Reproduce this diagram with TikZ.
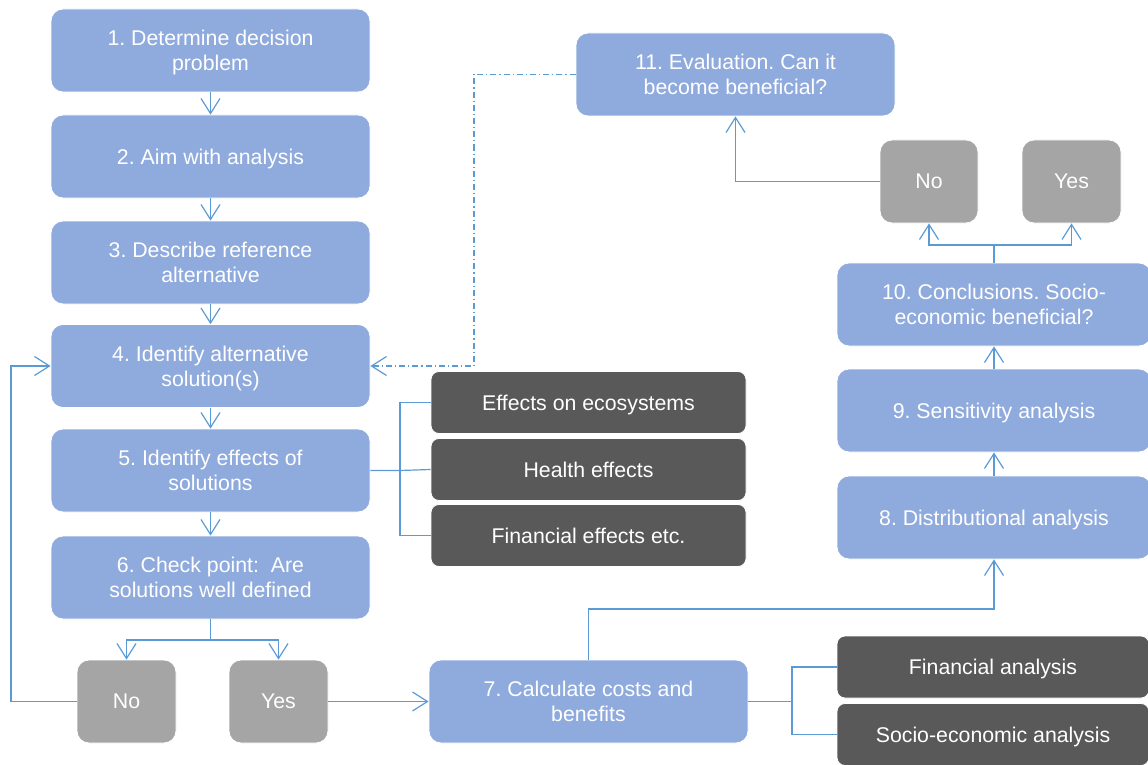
\documentclass[tikz,border=0pt]{standalone}
\usepackage{fontspec}
\setmainfont{Liberation Sans}
\usetikzlibrary{arrows.meta}
\definecolor{boxblue}{HTML}{8FAADC}
\definecolor{boxgrey}{HTML}{A5A5A5}
\definecolor{boxdark}{HTML}{595959}
\definecolor{linkblue}{HTML}{5B9BD5}
\tikzset{
  base/.style={rounded corners=12pt, draw=white, line width=0.8pt, text=white,
    align=center, inner sep=0pt, text depth=0pt,
    font=\fontsize{21.3}{25}\selectfont\frenchspacing},
  stepbox/.style={base, fill=boxblue, minimum width=319pt, minimum height=83pt},
  sidebox/.style={base, fill=boxblue, minimum width=314pt, minimum height=83pt},
  choice/.style={base, fill=boxgrey, minimum width=99pt, minimum height=83pt},
  effect/.style={base, fill=boxdark, rounded corners=8pt, minimum width=315pt, minimum height=62pt},
  link/.style={draw=linkblue, line width=1.2pt},
  arr/.style={link, -{Straight Barb[length=15pt, width=19pt]}},
  dashdot/.style={dash pattern=on 6pt off 3pt on 1.2pt off 3pt}
}
\begin{document}
\begin{tikzpicture}[x=1pt, y=-1pt]
\useasboundingbox (0,0) rectangle (1148,765);

% main sequence on the left
\node[stepbox] (b1) at (210.5,50.5) {1. Determine decision\\problem};
\node[stepbox] (b2) at (210.5,156.5) {2. Aim with analysis};
\node[stepbox] (b3) at (210.5,262.5) {3. Describe reference\\alternative};
\node[stepbox] (b4) at (210.5,366) {4. Identify alternative\\solution(s)};
\node[stepbox] (b5) at (210.5,470.5) {5. Identify effects of\\solutions};
\node[stepbox] (b6) at (210.5,577.5) {6. Check point:\ \ Are\\solutions well defined};
\node[choice] (no1) at (126.5,701.5) {No};
\node[choice] (yes1) at (278.5,701.5) {Yes};
\node[stepbox] (b7) at (588.5,701.5) {7. Calculate costs and\\benefits};

% kinds of effects
\node[effect] (e1) at (588.5,402.5) {Effects on ecosystems};
\node[effect] (e2) at (588.5,469.5) {Health effects};
\node[effect] (e3) at (588.5,535.5) {Financial effects etc.};

% kinds of analysis
\node[effect, minimum width=312pt] (f1) at (993,667) {Financial analysis};
\node[effect, minimum width=312pt] (f2) at (993,734.5) {Socio-economic analysis};

% right-hand column
\node[sidebox] (b8) at (994,517.5) {8. Distributional analysis};
\node[sidebox] (b9) at (994,410.5) {9. Sensitivity analysis};
\node[sidebox] (b10) at (994,304.5) {10. Conclusions. Socio-\\economic beneficial?};
\node[choice, minimum width=98pt] (no2) at (929,181.5) {No};
\node[choice] (yes2) at (1071.5,181.5) {Yes};
\node[stepbox] (b11) at (735.5,74.5) {11. Evaluation. Can it\\become beneficial?};

% junction points
\coordinate (j6) at (210.5,640);
\coordinate (cL) at (11,366);
\coordinate (j5) at (400,470.5);
\coordinate (j7) at (792,701.5);
\coordinate (c7) at (588.5,609);
\coordinate (j10) at (994,245);
\coordinate (dcol) at (474,200);

% main sequence arrows
\draw[arr] (b1) -- (b2);
\draw[arr] (b2) -- (b3);
\draw[arr] (b3) -- (b4);
\draw[arr] (b4) -- (b5);
\draw[arr] (b5) -- (b6);
\draw[link] (b6.south) -- (j6);
\draw[arr] (j6) -| (no1.north);
\draw[arr] (j6) -| (yes1.north);
\draw[arr] (no1.west) -| (cL) -- (b4.west);
\draw[arr] (yes1.east) -- (b7.west);

% effects bracket
\draw[link] (b5.east) -- (j5) -- (e2.west);
\draw[link] (e1.west) -| (j5) |- (e3.west);

% analysis bracket
\draw[link] (b7.east) -- (j7);
\draw[link] (f1.west) -| (j7) |- (f2.west);

% right-hand column arrows
\draw[arr] (b7.north) -- (c7) -| (b8.south);
\draw[arr] (b8) -- (b9);
\draw[arr] (b9) -- (b10);
\draw[link] (b10.north) -- (j10);
\draw[arr] (j10) -| (no2.south);
\draw[arr] (j10) -| (yes2.south);
\draw[arr] (no2.west) -| (b11.south);

% evaluation feeds back to step 4
\draw[arr, dashdot] (b11.west) -| (dcol) |- (b4.east);
\end{tikzpicture}
\end{document}
